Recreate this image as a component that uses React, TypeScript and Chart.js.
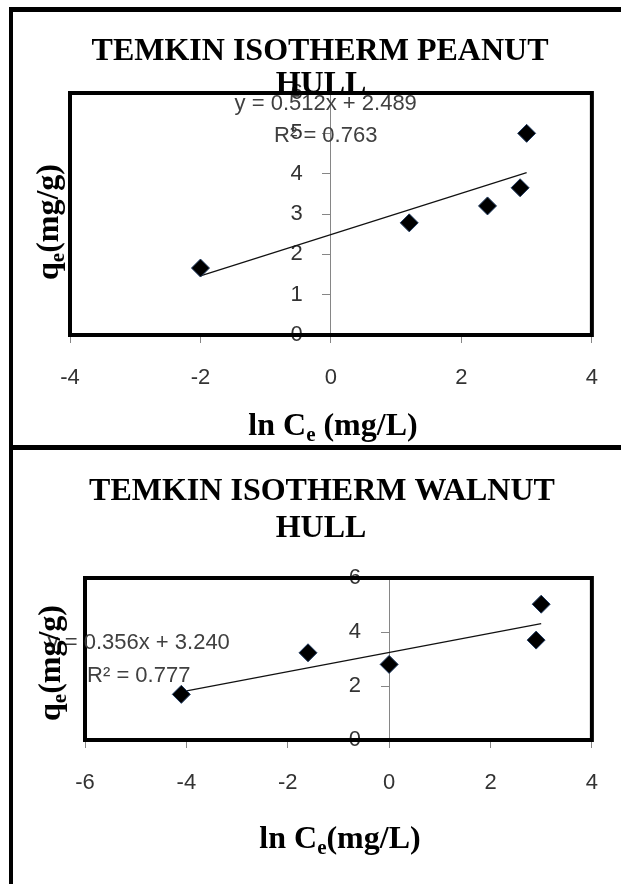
import React, { useEffect, useRef } from 'react';
import { Chart, registerables } from 'chart.js';

Chart.register(...registerables);

// ---------- Peanut hull ----------
const peanutTitle = ['TEMKIN ISOTHERM PEANUT', 'HULL'];
const peanutLnCe = [-2.0, 1.2, 2.4, 2.9, 3.0];
const peanutQe = [1.66, 2.78, 3.2, 3.65, 5.0];
const peanutSlope = 0.512;
const peanutIntercept = 2.489;
const peanutR2 = 0.763;
const peanutXTicks = [-4, -2, 0, 2, 4];
const peanutYTicks = [0, 1, 2, 3, 4, 5, 6];

// ---------- Walnut hull ----------
const walnutTitle = ['TEMKIN ISOTHERM WALNUT', 'HULL'];
const walnutLnCe = [-4.1, -1.6, 0.0, 2.9, 3.0];
const walnutQe = [1.69, 3.23, 2.8, 3.7, 5.03];
const walnutSlope = 0.356;
const walnutIntercept = 3.24;
const walnutR2 = 0.777;
const walnutXTicks = [-6, -4, -2, 0, 2, 4];
const walnutYTicks = [0, 2, 4, 6];

type Seg = { t: string; sub?: boolean };

const SERIF = '"Liberation Serif", "Times New Roman", serif';
const SANS = '"Liberation Sans", Arial, sans-serif';

function drawRich(ctx: CanvasRenderingContext2D, segs: Seg[], cx: number, baseline: number, size: number) {
  const main = `bold ${size}px ${SERIF}`;
  const subSize = Math.round(size * 0.66);
  const sub = `bold ${subSize}px ${SERIF}`;
  let total = 0;
  const widths = segs.map((s) => {
    ctx.font = s.sub ? sub : main;
    const w = ctx.measureText(s.t).width;
    total += w;
    return w;
  });
  let x = cx - total / 2;
  ctx.textAlign = 'left';
  ctx.textBaseline = 'alphabetic';
  segs.forEach((s, i) => {
    ctx.font = s.sub ? sub : main;
    ctx.fillText(s.t, x, baseline + (s.sub ? size * 0.2 : 0));
    x += widths[i];
  });
}

type Spec = {
  title: string[];
  xs: number[];
  ys: number[];
  slope: number;
  intercept: number;
  r2: number;
  xTicks: number[];
  yTicks: number[];
  xTitle: Seg[];
  yTitle: Seg[];
  width: number;
  height: number;
  top: number;
  padding: { left: number; top: number; right: number; bottom: number };
  titleLines: { cx: number; base: number }[];
  xTitlePos: { cx: number; base: number };
  yTitlePos: { bx: number; cy: number };
  eqPos: { x: number; y1: number; y2: number };
};

function IsoChart({ spec }: { spec: Spec }) {
  const ref = useRef<HTMLCanvasElement | null>(null);

  useEffect(() => {
    if (!ref.current) return;
    const s = spec;
    const xMin = Math.min(...s.xs);
    const xMax = Math.max(...s.xs);
    const eqText = `y = ${s.slope.toFixed(3)}x + ${s.intercept.toFixed(3)}`;
    const r2Text = `R\u00B2 = ${s.r2.toFixed(3)}`;

    const decor = {
      id: 'isoDecor',
      beforeDatasetsDraw(chart: any) {
        const { ctx, chartArea: a } = chart;
        ctx.save();
        ctx.strokeStyle = '#000';
        ctx.lineWidth = 4;
        ctx.strokeRect(a.left, a.top, a.right - a.left, a.bottom - a.top);
        ctx.restore();
      },
      afterDraw(chart: any) {
        const { ctx } = chart;
        const xs = chart.scales.x;
        const ys = chart.scales.y;
        ctx.save();
        // trendline equation
        ctx.fillStyle = '#404040';
        ctx.font = `22px ${SANS}`;
        ctx.textAlign = 'center';
        ctx.textBaseline = 'alphabetic';
        const ex = xs.getPixelForValue(s.eqPos.x);
        ctx.fillText(eqText, ex, ys.getPixelForValue(s.eqPos.y1));
        ctx.fillText(r2Text, ex, ys.getPixelForValue(s.eqPos.y2));
        // chart title
        ctx.fillStyle = '#000';
        ctx.textAlign = 'center';
        ctx.font = `bold 32px ${SERIF}`;
        s.title.forEach((line, i) => {
          const p = s.titleLines[i];
          ctx.fillText(line, p.cx, p.base);
        });
        // x axis title
        drawRich(ctx, s.xTitle, s.xTitlePos.cx, s.xTitlePos.base, 32);
        // y axis title (rotated)
        ctx.save();
        ctx.translate(s.yTitlePos.bx, s.yTitlePos.cy);
        ctx.rotate(-Math.PI / 2);
        drawRich(ctx, s.yTitle, 0, 0, 32);
        ctx.restore();
        ctx.restore();
      },
    };

    const tickFont = { family: SANS, size: 22 };
    const chart = new Chart(ref.current, {
      type: 'scatter',
      data: {
        datasets: [
          {
            type: 'scatter',
            data: s.xs.map((x, i) => ({ x, y: s.ys[i] })),
            pointStyle: 'rectRot',
            pointRadius: 9,
            backgroundColor: '#000',
            borderColor: '#1f3a60',
            borderWidth: 1,
          } as any,
          {
            type: 'line',
            data: [
              { x: xMin, y: s.slope * xMin + s.intercept },
              { x: xMax, y: s.slope * xMax + s.intercept },
            ],
            borderColor: '#111',
            borderWidth: 1.2,
            pointRadius: 0,
            fill: false,
          } as any,
        ],
      },
      options: {
        responsive: false,
        animation: false,
        events: [],
        layout: { padding: s.padding },
        plugins: {
          legend: { display: false },
          tooltip: { enabled: false },
          title: { display: false },
        },
        scales: {
          x: {
            type: 'linear',
            position: { y: 0 } as any,
            min: s.xTicks[0],
            max: s.xTicks[s.xTicks.length - 1],
            ticks: { stepSize: s.xTicks[1] - s.xTicks[0], padding: 23, color: '#333', font: tickFont, maxRotation: 0 },
            grid: { drawOnChartArea: false, drawTicks: true, tickLength: 7, color: '#868686' },
            border: { display: true, color: '#868686', width: 1 },
            afterFit: (sc: any) => { sc.height = 0; },
          },
          y: {
            type: 'linear',
            position: { x: 0 } as any,
            min: s.yTicks[0],
            max: s.yTicks[s.yTicks.length - 1],
            ticks: {
              stepSize: s.yTicks[1] - s.yTicks[0],
              color: '#333',
              font: tickFont,
              callback: (v: any) => `${v}\u2002\u2002 `,
            },
            grid: { drawOnChartArea: false, drawTicks: true, tickLength: 8, color: '#868686' },
            border: { display: true, color: '#868686', width: 1 },
            afterFit: (sc: any) => { sc.width = 0; },
          },
        },
      } as any,
      plugins: [decor],
    });
    return () => chart.destroy();
  }, [spec]);

  return (
    <canvas
      ref={ref}
      width={spec.width}
      height={spec.height}
      style={{ position: 'absolute', left: 0, top: spec.top, width: spec.width, height: spec.height, display: 'block' }}
    />
  );
}

const peanutSpec: Spec = {
  title: peanutTitle,
  xs: peanutLnCe,
  ys: peanutQe,
  slope: peanutSlope,
  intercept: peanutIntercept,
  r2: peanutR2,
  xTicks: peanutXTicks,
  yTicks: peanutYTicks,
  xTitle: [{ t: 'ln C' }, { t: 'e', sub: true }, { t: ' (mg/L)' }],
  yTitle: [{ t: 'q' }, { t: 'e', sub: true }, { t: '(mg/g)' }],
  width: 621,
  height: 445,
  top: 0,
  padding: { left: 70, top: 93, right: 24, bottom: 110 },
  titleLines: [{ cx: 320, base: 60 }, { cx: 321, base: 93 }],
  xTitlePos: { cx: 333, base: 435 },
  yTitlePos: { bx: 58, cy: 222 },
  eqPos: { x: -0.08, y1: 5.58, y2: 4.79 },
};

const walnutSpec: Spec = {
  title: walnutTitle,
  xs: walnutLnCe,
  ys: walnutQe,
  slope: walnutSlope,
  intercept: walnutIntercept,
  r2: walnutR2,
  xTicks: walnutXTicks,
  yTicks: walnutYTicks,
  xTitle: [{ t: 'ln C' }, { t: 'e', sub: true }, { t: '(mg/L)' }],
  yTitle: [{ t: 'q' }, { t: 'e', sub: true }, { t: '(mg/g)' }],
  width: 621,
  height: 434,
  top: 450,
  padding: { left: 85, top: 128, right: 25, bottom: 144 },
  titleLines: [{ cx: 322, base: 50 }, { cx: 321, base: 87 }],
  xTitlePos: { cx: 340, base: 398 },
  yTitlePos: { bx: 60, cy: 213 },
  eqPos: { x: -4.94, y1: 3.37, y2: 2.15 },
};

export default function App() {
  return (
    <div
      style={{
        position: 'fixed',
        left: 0,
        top: 0,
        width: 621,
        height: 884,
        overflow: 'hidden',
        background: '#fff',
      }}
    >
      <div
        style={{
          position: 'absolute',
          left: 9,
          top: 7,
          width: 700,
          height: 443,
          boxSizing: 'border-box',
          borderTop: '5px solid #000',
          borderLeft: '4px solid #000',
          borderBottom: '5px solid #000',
        }}
      />
      <div
        style={{
          position: 'absolute',
          left: 9,
          top: 445,
          width: 700,
          height: 500,
          boxSizing: 'border-box',
          borderTop: '5px solid #000',
          borderLeft: '4px solid #000',
        }}
      />
      <IsoChart spec={peanutSpec} />
      <IsoChart spec={walnutSpec} />
    </div>
  );
}
